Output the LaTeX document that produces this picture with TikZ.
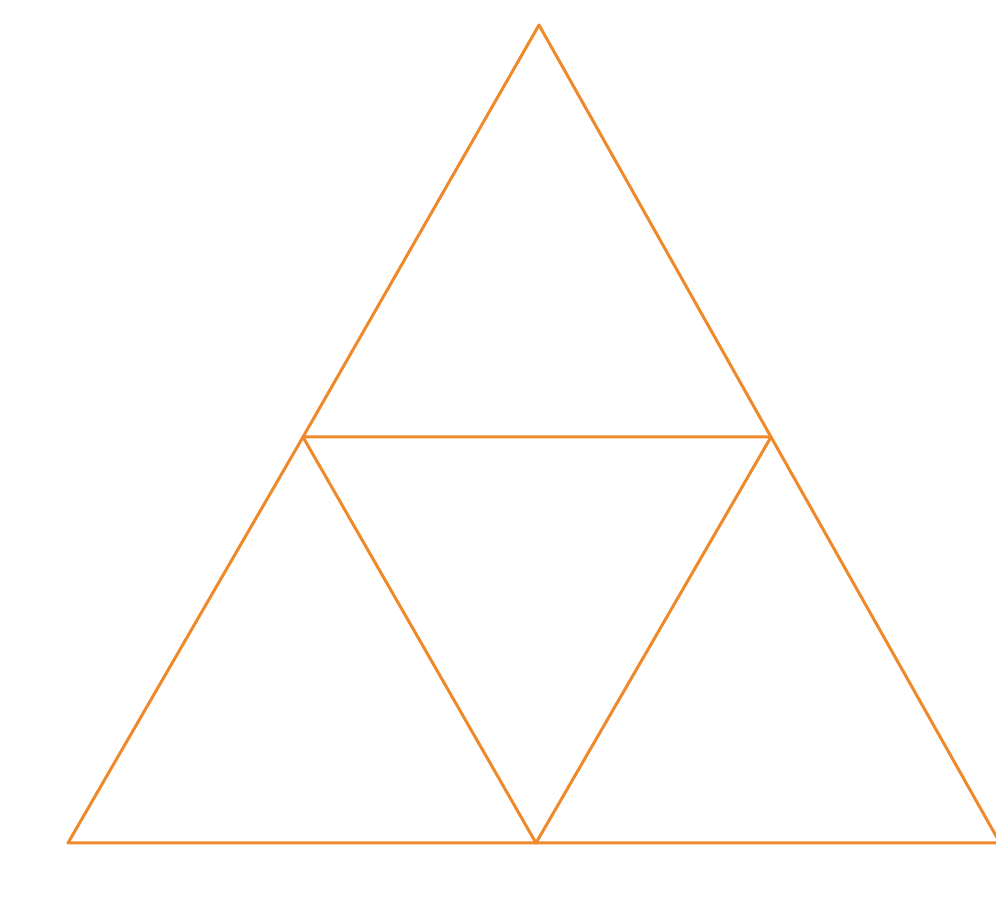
\documentclass[tikz,border=0pt]{standalone}
\definecolor{tri}{HTML}{EE8A2A}
\begin{document}
\begin{tikzpicture}[x=1pt,y=1pt,edge/.style={draw=tri,line width=3pt,line join=round,line cap=round}]
\useasboundingbox (0,0) rectangle (996,912);
\coordinate (top) at (539,887);
\coordinate (lm) at (303,475);
\coordinate (rm) at (771,475);
\coordinate (bl) at (68,69);
\coordinate (bm) at (536,69);
\coordinate (br) at (1000,69);
\draw[edge] (top) -- (lm) -- (bl) -- (bm) -- (br);
\draw[edge] (top) -- (rm) -- (br);
\draw[edge] (lm) -- (rm) -- (bm) -- (lm);
\end{tikzpicture}
\end{document}
